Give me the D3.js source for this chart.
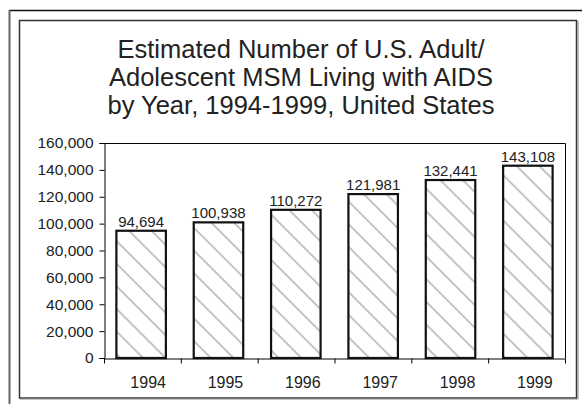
<!DOCTYPE html>
<html>
<head>
<meta charset="utf-8">
<script src="https://cdn.jsdelivr.net/npm/d3@7"></script>
<style>
  html, body { margin: 0; padding: 0; background: #fff; }
  svg { display: block; }
  text { font-family: "Liberation Sans", Arial, sans-serif; fill: #222; }
</style>
</head>
<body>
<svg id="chart"></svg>
<script>
// Data
const years = ["1994", "1995", "1996", "1997", "1998", "1999"];
const cases = [94694, 100938, 110272, 121981, 132441, 143108];
const yTicks = [0, 20000, 40000, 60000, 80000, 100000, 120000, 140000, 160000];
const titleLines = [
  "Estimated Number of U.S. Adult/",
  "Adolescent MSM Living with AIDS",
  "by Year, 1994-1999, United States"
];

const width = 582, height = 404;
const svg = d3.select("#chart").attr("width", width).attr("height", height);

// plot area
const plot = { left: 104, right: 565, top: 143, bottom: 358 };

// hatch pattern for the bars (diagonal "\" lines)
const pattern = svg.append("defs")
  .append("pattern")
  .attr("id", "hatch")
  .attr("patternUnits", "userSpaceOnUse")
  .attr("width", 16)
  .attr("height", 16)
  .attr("patternTransform", "rotate(-45)");

pattern.append("rect")
  .attr("width", 16)
  .attr("height", 16)
  .style("fill", "#fff");

pattern.append("line")
  .attr("x1", 8).attr("y1", 0)
  .attr("x2", 8).attr("y2", 16)
  .style("stroke", "#c4c4c4")
  .style("stroke-width", 2);

// outer frame (cropped on right and bottom)
svg.append("line")
  .attr("x1", 9).attr("y1", 10.5).attr("x2", width).attr("y2", 10.5)
  .style("stroke", "#111").style("stroke-width", 1.5);
svg.append("line")
  .attr("x1", 9.5).attr("y1", 10).attr("x2", 9.5).attr("y2", height)
  .style("stroke", "#666").style("stroke-width", 2);

// inner frame with a little shadow
svg.append("rect")
  .attr("x", 19.5).attr("y", 20.5)
  .attr("width", 557).attr("height", 377.5)
  .style("fill", "none")
  .style("stroke", "#333")
  .style("stroke-width", 1.5);
svg.append("path")
  .attr("d", "M578,21V399H20")
  .style("fill", "none")
  .style("stroke", "#888")
  .style("stroke-width", 1);

// title
svg.append("g")
  .selectAll("text")
  .data(titleLines)
  .enter().append("text")
  .attr("x", 301)
  .attr("y", (d, i) => 58 + i * 28)
  .attr("text-anchor", "middle")
  .style("font-size", "25.5px")
  .text(d => d);

// scales
const y = d3.scaleLinear().domain([0, 160000]).range([plot.bottom, plot.top]);
const x = d3.scaleBand()
  .domain(years)
  .range([plot.left, plot.right])
  .paddingInner(0.36)
  .paddingOuter(0.16);
const edges = d3.scaleLinear().domain([0, years.length]).range([plot.left, plot.right]);

// top and right border of the plot area
svg.append("path")
  .attr("d", `M${plot.left},${plot.top + 0.5}H${plot.right + 0.5}V${plot.bottom}`)
  .style("fill", "none")
  .style("stroke", "#000")
  .style("stroke-width", 1);

// y axis
const yAxis = svg.append("g")
  .attr("transform", `translate(${plot.left + 0.5},0)`)
  .call(d3.axisLeft(y).tickValues(yTicks).tickFormat(d3.format(",")).tickSize(5).tickPadding(6));
yAxis.select(".domain").style("stroke", "#000");
yAxis.selectAll(".tick line").style("stroke", "#000");
yAxis.selectAll("text")
  .style("font-family", "'Liberation Sans', Arial, sans-serif")
  .style("font-size", "15.5px")
  .style("fill", "#222");

// x axis: ticks at category boundaries
const xAxis = svg.append("g")
  .attr("transform", `translate(0,${plot.bottom + 0.5})`)
  .call(d3.axisBottom(edges).tickValues(d3.range(years.length + 1)).tickFormat("").tickSize(5).tickSizeOuter(0));
xAxis.select(".domain").style("stroke", "#000");
xAxis.selectAll(".tick line").style("stroke", "#000");

// year labels
svg.append("g")
  .selectAll("text")
  .data(years)
  .enter().append("text")
  .attr("x", d => x(d) + x.bandwidth() / 2 + 7)
  .attr("y", 388)
  .attr("text-anchor", "middle")
  .style("font-size", "16px")
  .text(d => d);

// bars
svg.append("g")
  .selectAll("rect")
  .data(cases)
  .enter().append("rect")
  .attr("x", (d, i) => x(years[i]))
  .attr("y", d => y(d))
  .attr("width", x.bandwidth())
  .attr("height", d => y(0) - y(d))
  .style("fill", "url(#hatch)")
  .style("stroke", "#111")
  .style("stroke-width", 2.2);

// value labels
svg.append("g")
  .selectAll("text")
  .data(cases)
  .enter().append("text")
  .attr("x", (d, i) => x(years[i]) + x.bandwidth() / 2)
  .attr("y", d => y(d) - 4)
  .attr("text-anchor", "middle")
  .style("font-size", "15px")
  .text(d => d3.format(",")(d));
</script>
</body>
</html>
